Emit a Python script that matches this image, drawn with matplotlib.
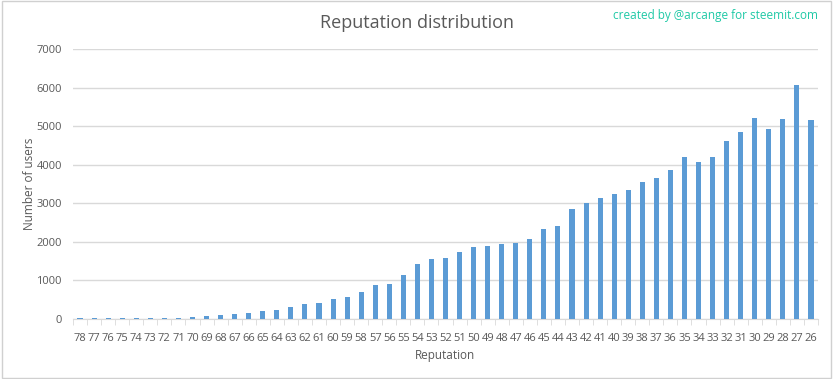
import numpy as np
import matplotlib.pyplot as plt
from matplotlib.patches import Rectangle

reputation = list(range(78, 25, -1))
users = [20, 20, 20, 20, 20, 20, 20, 20, 52, 78, 103, 129, 155, 207, 233, 310,
         388, 422, 517, 569, 698, 879, 905, 1138, 1417, 1547, 1573, 1726, 1854,
         1905, 1957, 1983, 2085, 2342, 2419, 2855, 3000, 3132, 3237, 3350, 3553,
         3658, 3870, 4210, 4079, 4210, 4610, 4844, 5208, 4922, 5182, 6067, 5156]

bar_color = '#5b9bd5'
text_color = '#595959'
grid_color = '#d9d9d9'

plt.rcParams['font.family'] = ['Open Sans', 'DejaVu Sans']

fig = plt.figure(figsize=(8.33, 3.79), dpi=100)
ax = fig.add_axes([73 / 833, 60 / 379, 745 / 833, 270 / 379])

x = np.arange(len(reputation))
ax.bar(x, users, width=0.36, color=bar_color, zorder=3)

ax.set_xlim(-0.5, len(reputation) - 0.5)
ax.set_ylim(0, 7000)
ax.set_yticks(range(0, 7001, 1000))
ax.set_xticks(x)
ax.set_xticklabels([str(r) for r in reputation])
ax.set_xticks(np.arange(-0.5, len(reputation), 1), minor=True)

ax.tick_params(axis='x', which='major', length=0, labelsize=8, labelcolor=text_color, pad=10)
ax.tick_params(axis='x', which='minor', length=4, color=grid_color, direction='out')
ax.tick_params(axis='y', length=0, labelsize=8, labelcolor=text_color, pad=8)

ax.grid(axis='y', color=grid_color, linewidth=1, zorder=0)
for s in ['top', 'right', 'left']:
    ax.spines[s].set_visible(False)
ax.spines['bottom'].set_color(grid_color)

ax.set_xlabel('Reputation', fontsize=8.5, color=text_color, labelpad=4)
ax.set_ylabel('Number of users', fontsize=8.5, color=text_color, labelpad=0)

fig.text(0.5, 0.94, 'Reputation distribution', ha='center', va='center',
         fontsize=13, color=text_color)
fig.text(0.982, 0.96, 'created by @arcange for steemit.com', ha='right', va='center',
         fontsize=8.5, color='#1fc9a6')

fig.patches.append(Rectangle((0.002, 0.003), 0.996, 0.994, transform=fig.transFigure,
                             fill=False, edgecolor='#d0d0d0', linewidth=1))

fig.savefig('out.png', dpi=100)
